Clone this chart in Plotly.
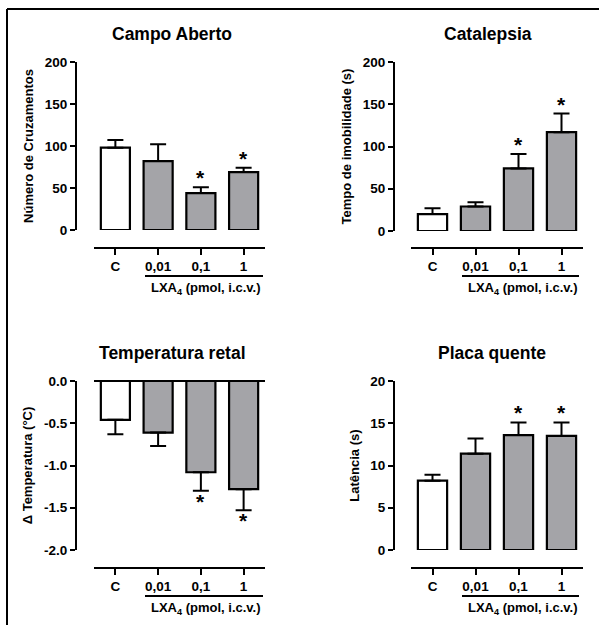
import plotly.graph_objects as go

# ---------------- data ----------------
categories = ["C", "0,01", "0,1", "1"]

campo_mean = [98, 82, 44, 69]
campo_sem = [9, 20, 7, 5]

catalepsia_mean = [20, 29, 74, 117]
catalepsia_sem = [7, 5, 17, 22]

temp_mean = [-0.46, -0.61, -1.08, -1.28]
temp_sem = [0.17, 0.16, 0.22, 0.25]

placa_mean = [8.2, 11.4, 13.6, 13.5]
placa_sem = [0.7, 1.8, 1.5, 1.6]

significant = [False, False, True, True]
significant_campo = [False, False, True, True]
significant_cat = [False, False, True, True]

titles = ["Campo Aberto", "Catalepsia", "Temperatura retal", "Placa quente"]
ytitles = ["Número de Cruzamentos", "Tempo de imobilidade (s)",
           "Δ Temperatura (°C)", "Latência (s)"]
yticks_campo = [0, 50, 100, 150, 200]
yticks_cat = [0, 50, 100, 150, 200]
yticks_temp = [0.0, -0.5, -1.0, -1.5, -2.0]
yticks_temp_text = ["0.0", "-0.5", "-1.0", "-1.5", "-2.0"]
yticks_placa = [0, 5, 10, 15, 20]
group_label = "LXA<sub>4</sub> (pmol, i.c.v.)"

# ---------------- style ----------------
W, H = 599, 625
FONT = "Liberation Sans"
GREY = "#a4a4a8"
bar_colors = ["white", GREY, GREY, GREY]


def px(x):
    return x / W


def py(y):
    return 1 - y / H


panels = [
    dict(mean=campo_mean, sem=campo_sem, sig=significant_campo, yr=[0, 200], yt=yticks_campo, ytt=None,
         xd=[94, 265], yd=[230, 62], yaxis_x=76, xaxis_y=248, br=[145, 263], br_y=276,
         neg=False, title_xy=(172, 34)),
    dict(mean=catalepsia_mean, sem=catalepsia_sem, sig=significant_cat, yr=[0, 200], yt=yticks_cat, ytt=None,
         xd=[411, 583], yd=[231, 62], yaxis_x=394, xaxis_y=248, br=[462, 579], br_y=276,
         neg=False, title_xy=(488, 34)),
    dict(mean=temp_mean, sem=temp_sem, sig=significant, yr=[-2, 0], yt=yticks_temp, ytt=yticks_temp_text,
         xd=[94, 265], yd=[550, 381], yaxis_x=76, xaxis_y=568, br=[145, 263], br_y=596,
         neg=True, title_xy=(172, 353)),
    dict(mean=placa_mean, sem=placa_sem, sig=significant, yr=[0, 20], yt=yticks_placa, ytt=None,
         xd=[411, 583], yd=[550, 381], yaxis_x=394, xaxis_y=568, br=[462, 579], br_y=596,
         neg=False, title_xy=(492, 353)),
]

fig = go.Figure()
layout = dict(
    width=W, height=H, autosize=False,
    margin=dict(l=0, r=0, t=0, b=0, pad=0, autoexpand=False),
    paper_bgcolor="white", plot_bgcolor="white",
    showlegend=False, bargap=0.32,
    font=dict(family=FONT, color="black"),
)
shapes = []
annotations = []

for i, p in enumerate(panels):
    n = i + 1
    xa = "x" if n == 1 else f"x{n}"
    ya = "y" if n == 1 else f"y{n}"
    if p["neg"]:
        err = dict(type="data", symmetric=False, array=[0] * 4, arrayminus=p["sem"],
                   color="black", thickness=2, width=8)
    else:
        err = dict(type="data", symmetric=False, array=p["sem"], arrayminus=[0] * 4,
                   color="black", thickness=2, width=8)
    fig.add_trace(go.Bar(
        x=categories, y=p["mean"], xaxis=xa, yaxis=ya,
        marker=dict(color=bar_colors, line=dict(color="black", width=2.2)),
        error_y=err, hoverinfo="skip",
    ))
    # significance stars, placed at the tip of each error bar (category index on x)
    for k, (m, s, g) in enumerate(zip(p["mean"], p["sem"], p["sig"])):
        if not g:
            continue
        annotations.append(dict(
            text="*", xref=xa, yref=ya, x=k, y=(m - s if p["neg"] else m + s),
            xanchor="center", yanchor="top" if p["neg"] else "bottom",
            yshift=3 if p["neg"] else -4, showarrow=False,
            font=dict(family=FONT, size=21, color="black", weight="bold"),
        ))
    xkey = "xaxis" if n == 1 else f"xaxis{n}"
    ykey = "yaxis" if n == 1 else f"yaxis{n}"
    layout[xkey] = dict(
        domain=[px(p["xd"][0]), px(p["xd"][1])], anchor="free", position=py(p["xaxis_y"]),
        type="category", categoryorder="array", categoryarray=categories,
        showline=True, linecolor="black", linewidth=2,
        ticks="outside", ticklen=6, tickwidth=2, tickcolor="black",
        tickfont=dict(family=FONT, size=13.5, color="black", weight="bold"),
        showgrid=False, zeroline=False, fixedrange=True, automargin=False,
    )
    ydict = dict(
        domain=[py(p["yd"][0]), py(p["yd"][1])], anchor="free", position=px(p["yaxis_x"]),
        range=p["yr"], tickvals=p["yt"],
        showline=True, linecolor="black", linewidth=2,
        ticks="outside", ticklen=5, tickwidth=2, tickcolor="black",
        tickfont=dict(family=FONT, size=13.5, color="black", weight="bold"),
        title=dict(text=ytitles[i], font=dict(family=FONT, size=13, color="black", weight="bold"),
                   standoff=7),
        showgrid=False, fixedrange=True, automargin=False,
        zeroline=p["neg"], zerolinecolor="black", zerolinewidth=2,
    )
    if p["ytt"] is not None:
        ydict["ticktext"] = p["ytt"]
    layout[ykey] = ydict
    shapes.append(dict(type="line", xref="paper", yref="paper",
                       x0=px(p["br"][0]), x1=px(p["br"][1]),
                       y0=py(p["br_y"]), y1=py(p["br_y"]),
                       line=dict(color="black", width=2)))
    annotations.append(dict(
        text=group_label, xref="paper", yref="paper",
        x=px((p["br"][0] + p["br"][1]) / 2 + 2), y=py(p["br_y"] + 2),
        xanchor="center", yanchor="top", showarrow=False,
        font=dict(family=FONT, size=13, color="black", weight="bold"),
    ))
    annotations.append(dict(
        text=titles[i], xref="paper", yref="paper",
        x=px(p["title_xy"][0]), y=py(p["title_xy"][1]),
        xanchor="center", yanchor="middle", showarrow=False,
        font=dict(family=FONT, size=17.5, color="black", weight="bold"),
    ))

shapes.append(dict(type="line", xref="paper", yref="paper", x0=px(7), x1=1,
                   y0=py(9), y1=py(9), line=dict(color="black", width=2)))
shapes.append(dict(type="line", xref="paper", yref="paper", x0=px(7), x1=px(7),
                   y0=py(9), y1=0, line=dict(color="black", width=2)))

layout["shapes"] = shapes
layout["annotations"] = annotations
fig.update_layout(**layout)
fig.write_html("out.html")
